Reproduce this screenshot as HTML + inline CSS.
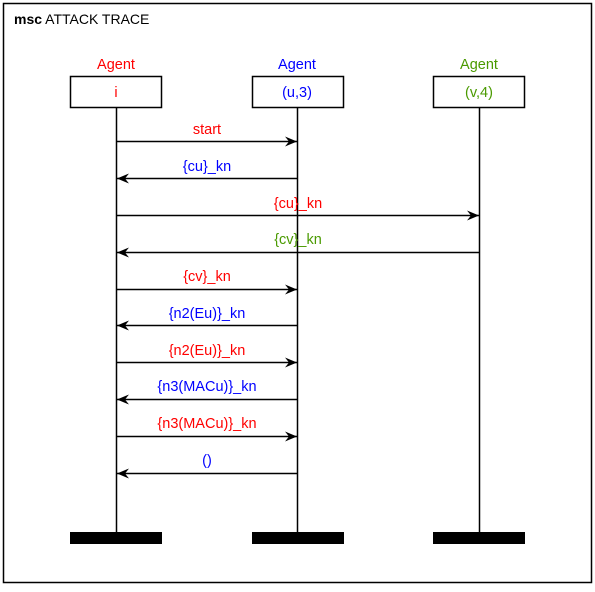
<!DOCTYPE html>
<html><head><style>
body{margin:0;background:#fff}
svg text{font-family:"Liberation Sans",sans-serif;font-size:14.5px}
</style></head><body>
<svg width="595" height="587" viewBox="0 0 595 587" xmlns="http://www.w3.org/2000/svg">
<defs>
<marker id="a" markerWidth="14" markerHeight="10" refX="12" refY="5" orient="auto" markerUnits="userSpaceOnUse">
<path d="M0,0 L12,5 L0,10 L4,5 Z" fill="#000"/>
</marker>
</defs>
<rect x="3.5" y="3.5" width="588" height="579" fill="#fff" stroke="#000" stroke-width="1.5"/>
<text x="14" y="24" style="font-size:14px"><tspan font-weight="bold">msc</tspan> ATTACK TRACE</text>
<g text-anchor="middle">
<text x="116" y="69" fill="#f00">Agent</text>
<text x="297" y="69" fill="#00f">Agent</text>
<text x="479" y="69" fill="#4a9a00">Agent</text>
<rect x="70.5" y="76.5" width="91" height="31" fill="#fff" stroke="#000" stroke-width="1.5"/>
<rect x="252.5" y="76.5" width="91" height="31" fill="#fff" stroke="#000" stroke-width="1.5"/>
<rect x="433.5" y="76.5" width="91" height="31" fill="#fff" stroke="#000" stroke-width="1.5"/>
<text x="116" y="97" fill="#f00">i</text>
<text x="297" y="97" fill="#00f">(u,3)</text>
<text x="479" y="97" fill="#4a9a00">(v,4)</text>
</g>
<g stroke="#000" stroke-width="1.5">
<line x1="116.5" y1="108" x2="116.5" y2="532"/>
<line x1="297.5" y1="108" x2="297.5" y2="532"/>
<line x1="479.5" y1="108" x2="479.5" y2="532"/>
</g>
<rect x="70" y="532" width="92" height="12" fill="#000"/>
<rect x="252" y="532" width="92" height="12" fill="#000"/>
<rect x="433" y="532" width="92" height="12" fill="#000"/>
<g stroke="#000" stroke-width="1.5" marker-end="url(#a)">
<line x1="117" y1="141.5" x2="297" y2="141.5"/>
<line x1="297" y1="178.5" x2="117" y2="178.5"/>
<line x1="117" y1="215.5" x2="479" y2="215.5"/>
<line x1="479" y1="252.5" x2="117" y2="252.5"/>
<line x1="117" y1="289.5" x2="297" y2="289.5"/>
<line x1="297" y1="325.5" x2="117" y2="325.5"/>
<line x1="117" y1="362.5" x2="297" y2="362.5"/>
<line x1="297" y1="399.5" x2="117" y2="399.5"/>
<line x1="117" y1="436.5" x2="297" y2="436.5"/>
<line x1="297" y1="473.5" x2="117" y2="473.5"/>
</g>
<g text-anchor="middle">
<text x="207" y="134" fill="#f00">start</text>
<text x="207" y="171" fill="#00f">{cu}_kn</text>
<text x="298" y="208" fill="#f00">{cu}_kn</text>
<text x="298" y="244" fill="#4a9a00">{cv}_kn</text>
<text x="207" y="281" fill="#f00">{cv}_kn</text>
<text x="207" y="318" fill="#00f">{n2(Eu)}_kn</text>
<text x="207" y="355" fill="#f00">{n2(Eu)}_kn</text>
<text x="207" y="391" fill="#00f">{n3(MACu)}_kn</text>
<text x="207" y="428" fill="#f00">{n3(MACu)}_kn</text>
<text x="207" y="465" fill="#00f">()</text>
</g>
</svg>
</body></html>
